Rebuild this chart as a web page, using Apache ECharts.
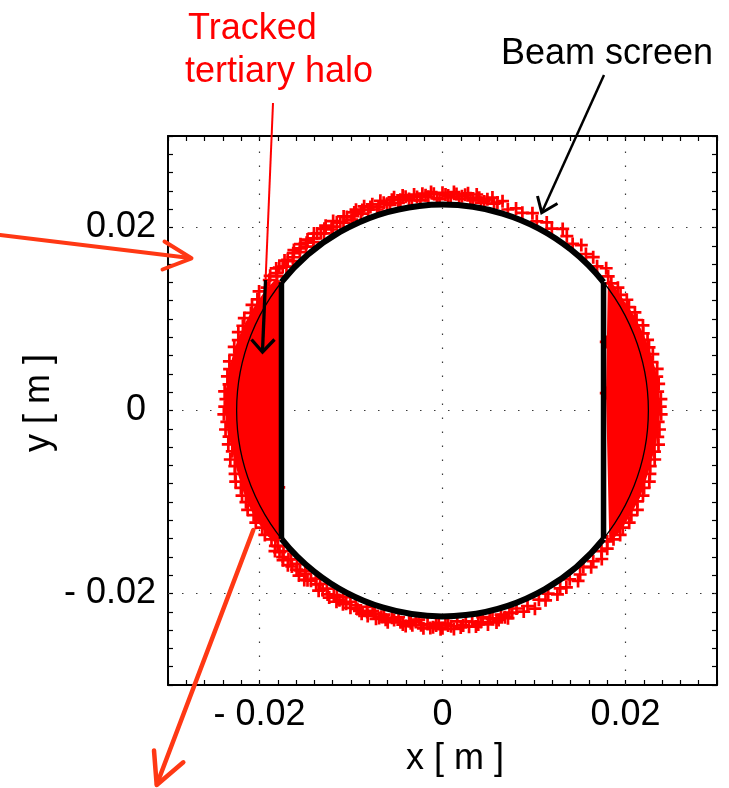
<!DOCTYPE html>
<html>
<head>
<meta charset="utf-8">
<script src="https://cdn.jsdelivr.net/npm/echarts@6/dist/echarts.min.js"></script>
<style>
  html, body { margin: 0; padding: 0; background: #fff; }
  #chart { width: 729px; height: 788px; }
</style>
</head>
<body>
<div id="chart"></div>
<script>
// Aperture of the beam screen (metres)
const beamScreenRadius = 0.0225;
const beamScreenHalfWidth = 0.0176;

// Axis range and labelled ticks
const axisMin = -0.03;
const axisMax = 0.03;
const tickStep = 0.002;
const tickLabelValues = [-0.02, 0, 0.02];
const tickLabelTexts = ['- 0.02', '0', '0.02'];
const gridValues = [-0.02, 0, 0.02];

// Tracked halo particles, [angle in degrees, radius in mm]
const haloTopArc = [
  [39,23.3],[41,23.7],[43,23.1],[45.5,23.5],[47.5,23.2],[50,23.6],[52,23.1],[54.5,23.4],[56.5,23.8],[59,23.2],
  [61,23.5],[63.5,23.1],[65.5,23.7],[68,23.3],[70,23.5],[72,23.1],[74,23.8],[76,23.3],[78,23.6],[79.5,23.1],
  [81,23.9],[82.5,23.4],[84,23.7],[85.5,23.2],[87,23.9],[88.5,23.5],[90,23.8],[91.5,23.2],[93,23.9],[94.5,23.6],
  [96,23.1],[97.5,23.8],[99,23.4],[100.5,23.9],[102,23.2],[103.5,23.7],[105,23.4],[106.5,23.9],[108,23.1],[109.5,23.6],
  [111,23.9],[112.5,23.3],[114,23.7],[115.5,23.1],[117,23.8],[118.5,23.4],[120,23.9],[121.5,23.2],[123,23.7],[124.5,23.5],
  [126,23.9],[127.5,23.2],[129,23.6],[130.5,23.9],[132,23.3],[133.5,23.7],[135,23.1],[136.5,23.8],[138,23.5],[139.5,23.9],
  [141,23.3],
  [75.2,23.5],[76.8,23.9],[78.7,23.3],[80.2,23.6],[81.8,23.2],[83.3,23.9],[84.8,23.5],[86.3,23.7],[87.8,23.3],[89.2,23.6],
  [90.8,23.1],[92.3,23.7],[93.8,23.4],[95.3,23.8],[96.8,23.5],[98.3,23.2],[99.8,23.7],[101.3,23.5],[102.8,23.9],[104.3,23.2],
  [105.8,23.6],[107.3,23.3],[108.8,23.8],[110.3,23.4],[111.8,23.6],[113.3,23.9],[114.8,23.4],[116.3,23.6],[117.8,23.2],[119.3,23.6],
  [120.8,23.4],[122.3,23.9],[123.8,23.3],[125.3,23.7],[126.8,23.5],[128.3,23.8],[129.8,23.3],[131.3,23.6],[132.8,23.9],[134.3,23.4],
  [135.8,23.6],[137.3,23.2],[138.8,23.7],[140.3,23.5],[142,23.9]
];
const haloBottomArc = [
  [219,23.5],[220,23.9],[221.5,23.2],[222.5,23.7],[224,23.4],[225,23.9],[226.5,23.1],[227.5,23.6],[229,23.9],[230,23.3],
  [231.5,23.7],[233,23.0],[234,23.5],[235.5,23.9],[237,23.2],[238,23.7],[239.5,23.4],[241,23.9],[242,23.1],[243.5,23.6],
  [245,23.8],[246,23.3],[247.5,23.7],[249,23.0],[250,23.9],[251.5,23.4],[253,23.7],[254,23.2],[255.5,23.9],[257,23.5],
  [258,23.1],[259.5,23.8],[261,23.3],[262,23.7],[263.5,23.0],[265,23.9],[266,23.4],[267.5,23.7],[269,23.2],[270,23.8],
  [271.5,23.5],[273,23.9],[274,23.1],[275.5,23.6],[277,23.8],[278,23.3],[279.5,23.7],[281,23.0],[282,23.9],[283.5,23.4],
  [285,23.7],[286,23.2],[287.5,23.8],[289,23.4],[290.5,23.1],[292,23.7],[293.5,23.3],[295,23.9],[297,23.2],[298.5,23.6],
  [300,23.1],[302,23.7],[303.5,23.3],[305,23.6],[307,23.1],[308.5,23.8],[310,23.4],[312,23.0],[313.5,23.6],[315,23.3],
  [317,23.8],[318.5,23.2],[320,23.5],[321.5,23.0],
  [219.5,23.3],[221,23.6],[223.2,23.9],[224.5,23.2],[226,23.7],[228.3,23.4],[229.5,23.1],[230.8,23.9],[232.3,23.5],[234.8,23.2],
  [236.3,23.6],[238.8,23.9],[240.3,23.3],[241.5,23.6],[242.8,23.8],[244.3,23.2],[246.8,23.6],[248.3,23.9],[249.5,23.5],[250.8,23.2],
  [252.3,23.9],[253.5,23.5],[254.8,23.7],[256.3,23.3],[258.8,23.6],[260.3,23.9],[261.5,23.5],[262.8,23.3],[264.3,23.6],[266.8,23.8],
  [268.3,23.5],[269.5,23.9],[270.8,23.3],[272.3,23.6],[274.8,23.8],[276.3,23.2],[278.8,23.9],[280.3,23.5],[282.8,23.3],[284.3,23.9],
  [286.8,23.6],[288.3,23.3]
];
const haloLeftEdge = [
  [143,23.7],[145,23.4],[147,23.9],[149,23.6],[151,23.8],[153,23.5],[155,23.9],[157,23.7],[159,23.9],[161,23.6],
  [163,23.8],[165,23.5],[167,23.9],[169,23.7],[171,23.8],[173,23.5],[175,23.9],[177,23.7],[179,23.8],[181,23.9],
  [183,23.6],[185,23.8],[187,23.5],[189,23.7],[191,23.4],[193,23.8],[195,23.5],[197,23.7],[199,23.9],[201,23.6],
  [203,23.8],[205,23.7],[207,23.9],[209,23.6],[211,23.8],[213,23.5],[215,23.7],[217,23.4]
];
const haloRightEdge = [
  [-37,23.4],[-35,23.7],[-33,23.5],[-31,23.8],[-29,23.6],[-27,23.9],[-25,23.5],[-23,23.8],[-21,23.6],[-19,23.9],
  [-17,23.7],[-15,23.5],[-13,23.8],[-11,23.6],[-9,23.9],[-7,23.7],[-5,23.8],[-3,23.6],[-1,23.9],[1,23.8],
  [3,23.9],[5,23.6],[7,23.8],[9,23.7],[11,23.9],[13,23.5],[15,23.8],[17,23.6],[19,23.7],[21,23.5],
  [23,23.8],[25,23.4],[27,23.6],[29,23.3],[31,23.5],[33,23.2],[35,23.4],[37,23.1]
];
// Particles just inside the flat sides, [x mm, y mm]
const haloInside = [[17.9,7.5],[17.9,1.9],[-17.9,-8.4]];

// Outer boundary of the dense halo on each flat side, [angle in degrees, radius in mm]
const leftDenseBoundary = [
  [141.5,23.2],[146,23.4],[151,23.5],[156,23.6],[161,23.7],[166,23.7],[171,23.8],[176,23.8],[181,23.7],
  [186,23.6],[191,23.4],[196,23.4],[201,23.5],[206,23.6],[211,23.6],[216,23.5],[218.5,23.3]
];
const rightDenseBoundary = [
  [-38.5,23.3],[-34,23.5],[-29,23.5],[-24,23.6],[-19,23.5],[-14,23.5],[-9,23.6],[-4,23.7],[1,23.8],
  [6,23.8],[11,23.7],[16,23.6],[21,23.5],[26,23.4],[31,23.2],[36,23.2],[38.5,23.1]
];

const RED = '#ff0000';
const ORANGE = '#ff3814';
const FONT = '"Liberation Sans", Arial, Helvetica, sans-serif';
const PLUS = 'path://M9.5,0H14.5V9.5H24V14.5H14.5V24H9.5V14.5H0V9.5H9.5Z';

const polarToXY = ([deg, mm]) => {
  const a = deg * Math.PI / 180;
  return [mm / 1000 * Math.cos(a), mm / 1000 * Math.sin(a)];
};
const mmToXY = ([x, y]) => [x / 1000, y / 1000];

const haloPoints = []
  .concat(haloTopArc.map(polarToXY))
  .concat(haloBottomArc.map(polarToXY))
  .concat(haloLeftEdge.map(polarToXY))
  .concat(haloRightEdge.map(polarToXY))
  .concat(haloInside.map(mmToXY));

const flatHalfHeight = Math.sqrt(beamScreenRadius * beamScreenRadius - beamScreenHalfWidth * beamScreenHalfWidth);

function tickFormatter(v) {
  for (let i = 0; i < tickLabelValues.length; i++) {
    if (Math.abs(v - tickLabelValues[i]) < 1e-9) return tickLabelTexts[i];
  }
  return '';
}
function yTickFormatter(v) {
  const t = tickFormatter(v);
  return t === '0' ? '{z|0}' : t;
}

const labelStyle = { fontSize: 36, fontFamily: FONT, color: '#000', margin: 12 };
function makeAxis(position, showLabel, formatter) {
  return {
    type: 'value', position: position, min: axisMin, max: axisMax, interval: tickStep,
    axisLine: { show: true, onZero: false, lineStyle: { color: '#000', width: 2 } },
    axisTick: { show: true, inside: true, length: 5, lineStyle: { color: '#000', width: 1.2 } },
    axisLabel: Object.assign({ show: showLabel, formatter: formatter,
      rich: { z: { fontSize: 36, fontFamily: FONT, color: '#000', padding: [0, 10, 0, 0] } } }, labelStyle),
    splitLine: { show: false }
  };
}

const chart = echarts.init(document.getElementById('chart'), null, { renderer: 'canvas' });

const option = {
  animation: false,
  backgroundColor: '#fff',
  grid: { left: 168, top: 136, width: 549, height: 549, containLabel: false, outerBoundsMode: 'none' },
  xAxis: [makeAxis('bottom', true, tickFormatter), makeAxis('top', false, tickFormatter)],
  yAxis: [makeAxis('left', true, yTickFormatter), makeAxis('right', false, yTickFormatter)],
  series: [
    {
      // dotted grid lines
      type: 'custom', z: 1, silent: true,
      data: gridValues.map(v => [v]),
      encode: { x: 0 },
      renderItem: function (params, api) {
        const v = api.value(0);
        const a = api.coord([v, axisMin]), b = api.coord([v, axisMax]);
        const c = api.coord([axisMin, v]), d = api.coord([axisMax, v]);
        const st = { stroke: '#3a3a3a', lineWidth: 1.2, lineDash: [1.5, 12.5] };
        return { type: 'group', children: [
          { type: 'line', shape: { x1: a[0], y1: a[1], x2: b[0], y2: b[1] }, style: st },
          { type: 'line', shape: { x1: c[0], y1: c[1], x2: d[0], y2: d[1] }, style: st }
        ] };
      }
    },
    {
      // dense halo on the two flat sides
      type: 'custom', z: 2, silent: true,
      data: [[0, 0]],
      renderItem: function (params, api) {
        const side = (boundary, sign) => {
          const pts = [api.coord([sign * beamScreenHalfWidth, flatHalfHeight])];
          boundary.forEach(p => pts.push(api.coord(polarToXY(p))));
          pts.push(api.coord([sign * beamScreenHalfWidth, -flatHalfHeight]));
          return { type: 'polygon', shape: { points: pts }, style: { fill: RED, stroke: 'none' } };
        };
        return { type: 'group', children: [side(leftDenseBoundary, -1), side(rightDenseBoundary, 1)] };
      }
    },
    {
      name: 'Tracked tertiary halo',
      type: 'scatter', z: 3, silent: true,
      symbol: PLUS, symbolSize: 13,
      itemStyle: { color: RED, opacity: 1 },
      data: haloPoints
    },
    {
      name: 'Beam screen',
      type: 'custom', z: 4, silent: true,
      data: [[0, 0]],
      renderItem: function (params, api) {
        const c = api.coord([0, 0]);
        const r = api.size([beamScreenRadius, 0])[0];
        const corner = Math.acos(beamScreenHalfWidth / beamScreenRadius);
        const tl = api.coord([-beamScreenHalfWidth, flatHalfHeight]);
        const bl = api.coord([-beamScreenHalfWidth, -flatHalfHeight]);
        const tr = api.coord([beamScreenHalfWidth, flatHalfHeight]);
        const br = api.coord([beamScreenHalfWidth, -flatHalfHeight]);
        const thick = { stroke: '#000', lineWidth: 6, fill: 'none' };
        return { type: 'group', children: [
          { type: 'circle', shape: { cx: c[0], cy: c[1], r: r }, style: { stroke: '#000', lineWidth: 1.3, fill: 'none' } },
          { type: 'arc', shape: { cx: c[0], cy: c[1], r: r, startAngle: -(Math.PI - corner), endAngle: -corner, clockwise: true }, style: thick },
          { type: 'arc', shape: { cx: c[0], cy: c[1], r: r, startAngle: corner, endAngle: Math.PI - corner, clockwise: true }, style: thick },
          { type: 'line', shape: { x1: tl[0], y1: tl[1], x2: bl[0], y2: bl[1] }, style: { stroke: '#000', lineWidth: 5.5 } },
          { type: 'line', shape: { x1: tr[0], y1: tr[1], x2: br[0], y2: br[1] }, style: { stroke: '#000', lineWidth: 5.5 } }
        ] };
      }
    }
  ],
  graphic: [
    // axis titles
    { type: 'text', z: 50, x: 455, y: 759.5, style: { text: 'x [ m ]', font: '36px ' + FONT, fill: '#000', align: 'center', verticalAlign: 'middle' } },
    { type: 'text', z: 50, x: 39.5, y: 403, rotation: Math.PI / 2, style: { text: 'y [ m ]', font: '36px ' + FONT, fill: '#000', align: 'center', verticalAlign: 'middle' } },
    // annotations
    { type: 'text', z: 50, x: 188, y: 29.5, style: { text: 'Tracked', font: '36px ' + FONT, fill: RED, align: 'left', verticalAlign: 'middle' } },
    { type: 'text', z: 50, x: 185, y: 72.5, style: { text: 'tertiary halo', font: '36px ' + FONT, fill: RED, align: 'left', verticalAlign: 'middle' } },
    { type: 'text', z: 50, x: 501, y: 54.5, style: { text: 'Beam screen', font: '36px ' + FONT, fill: '#000', align: 'left', verticalAlign: 'middle' } },
    { type: 'line', z: 50, shape: { x1: 273, y1: 103, x2: 265.5, y2: 282 }, style: { stroke: RED, lineWidth: 2 } },
    { type: 'line', z: 51, shape: { x1: 265.5, y1: 280, x2: 262.5, y2: 351 }, style: { stroke: '#000', lineWidth: 3.3 } },
    { type: 'polyline', z: 51, shape: { points: [[251.5, 339.5], [262.5, 352], [274.5, 339.5]] }, style: { stroke: '#000', lineWidth: 3.3, fill: 'none' } },
    { type: 'line', z: 50, shape: { x1: 604, y1: 75, x2: 542, y2: 212 }, style: { stroke: '#000', lineWidth: 2.5 } },
    { type: 'polyline', z: 50, shape: { points: [[537.5, 196], [541.7, 212.7], [557.5, 203.5]] }, style: { stroke: '#000', lineWidth: 3, fill: 'none' } },
    { type: 'line', z: 50, shape: { x1: 0, y1: 235, x2: 190, y2: 258 }, style: { stroke: ORANGE, lineWidth: 4, lineCap: 'round' } },
    { type: 'polyline', z: 50, shape: { points: [[164.5, 241.5], [191.5, 258.3], [162.5, 269.5]] }, style: { stroke: ORANGE, lineWidth: 4, fill: 'none', lineCap: 'round', lineJoin: 'round' } },
    { type: 'line', z: 50, shape: { x1: 253.3, y1: 530, x2: 157, y2: 784 }, style: { stroke: ORANGE, lineWidth: 4.5, lineCap: 'round' } },
    { type: 'polyline', z: 50, shape: { points: [[154, 750.5], [156.7, 785], [183.3, 762.3]] }, style: { stroke: ORANGE, lineWidth: 4.5, fill: 'none', lineCap: 'round', lineJoin: 'round' } }
  ]
};

chart.setOption(option);
</script>
</body>
</html>
